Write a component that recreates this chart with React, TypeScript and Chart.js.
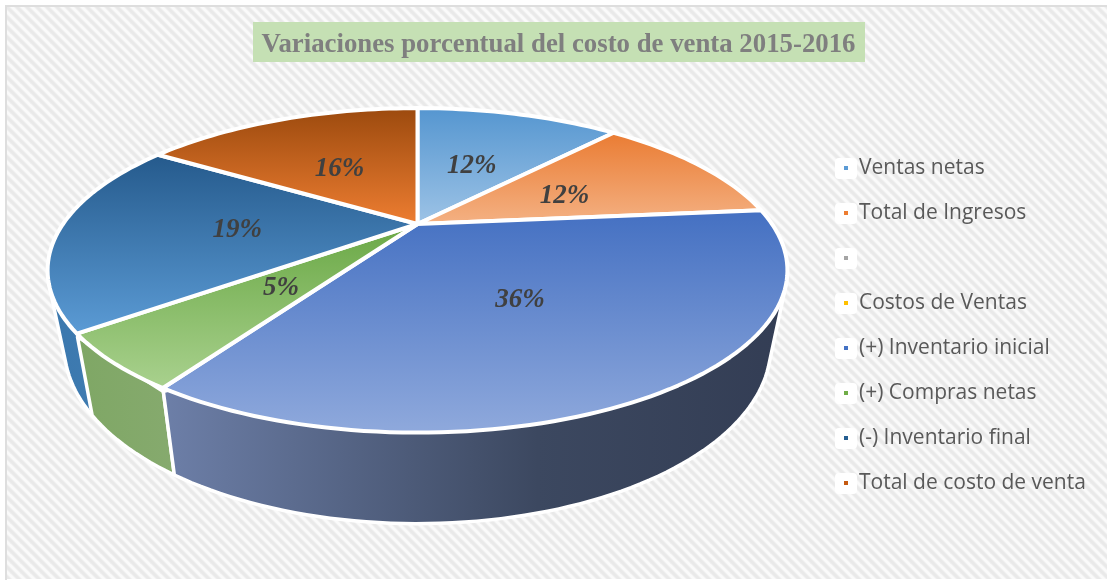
import React, { useEffect, useRef } from "react";
import { Chart, registerables } from "chart.js";

Chart.register(...registerables);

const categories = ["Ventas netas", "Total de Ingresos", "", "Costos de Ventas", "(+) Inventario inicial", "(+) Compras netas", "(-) Inventario final", "Total de costo de venta"];
const shares = [11.7, 11.8, 0, 0, 35.7, 5.4, 19.4, 16.0];
const percentLabels = ["12%", "12%", "", "", "36%", "5%", "19%", "16%"];
const legendColors = ["#5b9bd5", "#ed7d31", "#a5a5a5", "#ffc000", "#4472c4", "#70ad47", "#255e91", "#c55a11"];
const faceTop = ["#5596d0", "#ea7c33", "#a5a5a5", "#ffc000", "#4470c2", "#6aa845", "#255a8c", "#9c4a0e"];
const faceBottom = ["#9dc3e6", "#f4b183", "#c9c9c9", "#ffd966", "#8fa9dc", "#a9d18e", "#5b9bd5", "#ed7d31"];
const wallLeft = ["#3f6f9c", "#a4582a", "#777", "#b38600", "#6d7fa8", "#7fa765", "#3b78ae", "#a4582a"];
const wallRight = ["#3f6f9c", "#a4582a", "#777", "#b38600", "#333d54", "#86aa6e", "#437fb4", "#a4582a"];
const titleText = "Variaciones porcentual del costo de venta 2015-2016";

// Projection of the flat pie onto the page (perspective view of a disc)
const CX = 417.5, CY = 224, A = 354.5, B = 149, K = 0.2857;
// Lower rim of the cylinder, relative to the upper rim
const SX = 0.955, SY = 1.0926, MID_TOP = 270, MID_LOW = 346;

type Pt = { x: number; y: number };

function project(angle: number, r: number, level: number): Pt {
  const th = angle + Math.PI / 2;
  const u = r * Math.sin(th), v = r * Math.cos(th);
  const w = 1 + K * v;
  const x = CX + (A * u) / w, y = CY - (B * v) / w;
  const lowX = CX + SX * (x - CX);
  const lowY = MID_LOW + SY * (y - MID_TOP);
  return { x: x + (lowX - x) * level, y: y + (lowY - y) * level };
}

function arcPoints(a0: number, a1: number, level: number) {
  const n = Math.max(2, Math.ceil(((a1 - a0) / (2 * Math.PI)) * 240));
  const pts: Pt[] = [];
  for (let i = 0; i <= n; i++) pts.push(project(a0 + ((a1 - a0) * i) / n, 1, level));
  return pts;
}

function convexHull(input: Pt[]) {
  const pts = [...input].sort((a, b) => a.x - b.x || a.y - b.y);
  const cross = (o: Pt, a: Pt, b: Pt) => (a.x - o.x) * (b.y - o.y) - (a.y - o.y) * (b.x - o.x);
  const half = (list: Pt[]) => {
    const out: Pt[] = [];
    for (const p of list) {
      while (out.length >= 2 && cross(out[out.length - 2], out[out.length - 1], p) <= 0) out.pop();
      out.push(p);
    }
    out.pop();
    return out;
  };
  return [...half(pts), ...half([...pts].reverse())];
}

function tracePath(ctx: CanvasRenderingContext2D, pts: Pt[]) {
  ctx.beginPath();
  pts.forEach((p, i) => (i ? ctx.lineTo(p.x, p.y) : ctx.moveTo(p.x, p.y)));
  ctx.closePath();
}

function makeMarker(color: string) {
  const c = document.createElement("canvas");
  c.width = 22;
  c.height = 21;
  const g = c.getContext("2d")!;
  g.fillStyle = "#ffffff";
  g.beginPath();
  g.roundRect(0, 0, 22, 21, 4);
  g.fill();
  g.fillStyle = color;
  g.fillRect(9, 8, 4, 4);
  return c;
}

function makeHatch(ctx: CanvasRenderingContext2D) {
  const p = 10;
  const c = document.createElement("canvas");
  c.width = p;
  c.height = p;
  const g = c.getContext("2d")!;
  g.fillStyle = "#fafafa";
  g.fillRect(0, 0, p, p);
  const widths: [string, number][] = [["#f1f1f1", 4.6], ["#e9e9e9", 2.8]];
  widths.forEach(([color, width]) => {
    g.strokeStyle = color;
    g.lineWidth = width;
    for (let o = -p; o <= p; o += p) {
      g.beginPath();
      g.moveTo(o - 2, -2);
      g.lineTo(o + p + 2, p + 2);
      g.stroke();
    }
  });
  return ctx.createPattern(c, "repeat")!;
}

const framePlugin = {
  id: "frame",
  beforeDraw(chart: any) {
    const ctx = chart.ctx as CanvasRenderingContext2D;
    ctx.save();
    ctx.fillStyle = "#ffffff";
    ctx.fillRect(0, 0, chart.width, chart.height);
    ctx.fillStyle = makeHatch(ctx);
    ctx.fillRect(6, 6, 1101, 573);
    ctx.fillStyle = "#dedede";
    ctx.fillRect(5, 5, 1102, 2);
    ctx.fillRect(5, 5, 2, 575);
    ctx.fillStyle = "#c5e0b4";
    ctx.fillRect(253, 22, 612, 40);
    ctx.restore();
  },
};

const legendPlacePlugin = {
  id: "legendPlace",
  afterLayout(chart: any) {
    const lg = chart.legend;
    const w = lg.width;
    lg.left = 819.5;
    lg.right = 819.5 + w;
    lg.top = 134;
    lg.bottom = 583;
  },
};

const pie3dPlugin = {
  id: "pie3d",
  beforeDatasetsDraw(chart: any) {
    const ctx = chart.ctx as CanvasRenderingContext2D;
    const arcs = chart.getDatasetMeta(0).data as any[];
    const apex = project(0, 0, 0);
    ctx.save();
    ctx.lineJoin = "round";
    // outer walls, back to front
    [...arcs.keys()].reverse().forEach((i) => {
      const arc = arcs[i];
      if (!shares[i]) return;
      const top = arcPoints(arc.startAngle, arc.endAngle, 0.04);
      const low = arcPoints(arc.startAngle, arc.endAngle, 1);
      const xs = [...top, ...low].map((p) => p.x);
      const g = ctx.createLinearGradient(Math.min(...xs), 0, Math.max(...xs), 0);
      g.addColorStop(0, wallLeft[i]);
      g.addColorStop(i === 4 ? 0.6 : 1, i === 4 ? "#3c4860" : wallRight[i]);
      g.addColorStop(1, wallRight[i]);
      tracePath(ctx, convexHull([...top, ...low]));
      ctx.fillStyle = g;
      ctx.fill();
      ctx.strokeStyle = "#ffffff";
      ctx.lineWidth = 3.5;
      ctx.stroke();
    });
    // top faces
    arcs.forEach((arc, i) => {
      if (!shares[i]) return;
      const pts = [apex, ...arcPoints(arc.startAngle, arc.endAngle, 0)];
      const ys = pts.map((p) => p.y);
      const g = ctx.createLinearGradient(0, Math.min(...ys), 0, Math.max(...ys));
      g.addColorStop(0, faceTop[i]);
      g.addColorStop(1, faceBottom[i]);
      tracePath(ctx, pts);
      ctx.fillStyle = g;
      ctx.fill();
      ctx.strokeStyle = "#ffffff";
      ctx.lineWidth = 4;
      ctx.stroke();
    });
    // percentage labels
    ctx.font = "italic bold 27px 'Liberation Serif'";
    ctx.fillStyle = "#404040";
    ctx.textAlign = "center";
    ctx.textBaseline = "middle";
    arcs.forEach((arc, i) => {
      if (!shares[i]) return;
      const p = project((arc.startAngle + arc.endAngle) / 2, 0.5, 0);
      ctx.fillText(percentLabels[i], p.x - 2, p.y + 3);
    });
    ctx.restore();
    return false;
  },
};

export default function App() {
  const ref = useRef<HTMLCanvasElement>(null);
  useEffect(() => {
    document.body.style.margin = "0";
    const markers = legendColors.map(makeMarker);
    const chart = new Chart(ref.current!, {
      type: "pie",
      data: {
        labels: categories,
        datasets: [{ data: shares, backgroundColor: legendColors }],
      },
      options: {
        responsive: false,
        animation: false,
        layout: { padding: { left: 10, right: 0, top: 0, bottom: 0 } },
        plugins: {
          tooltip: { enabled: false },
          title: {
            display: true,
            text: titleText,
            color: "#7f7f7f",
            font: { family: "'Liberation Serif'", size: 26.8, weight: "bold", lineHeight: 1 },
            padding: { top: 32, bottom: 10 },
          },
          legend: {
            display: true,
            position: "right",
            align: "start",
            labels: {
              usePointStyle: true,
              boxWidth: 5,
              boxHeight: 21,
              padding: 24,
              color: "#595959",
              font: { family: "'Open Sans'", size: 21 },
              generateLabels: () =>
                categories.map((text, i) => ({
                  text,
                  fillStyle: legendColors[i],
                  strokeStyle: legendColors[i],
                  lineWidth: 0,
                  pointStyle: markers[i] as any,
                  hidden: false,
                  index: i,
                  fontColor: "#595959",
                })),
            },
          },
        },
      } as any,
      plugins: [framePlugin, legendPlacePlugin, pie3dPlugin] as any,
    });
    return () => chart.destroy();
  }, []);
  return <canvas ref={ref} width={1107} height={583} style={{ display: "block" }} />;
}
